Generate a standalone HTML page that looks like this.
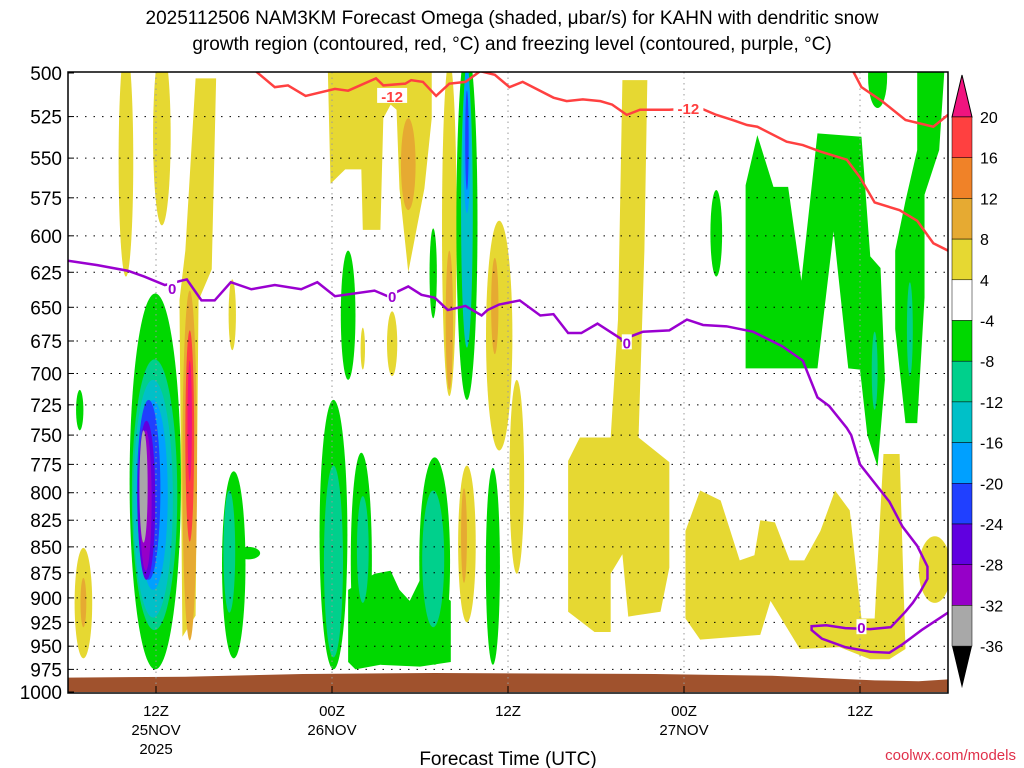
<!DOCTYPE html>
<html><head><meta charset="utf-8"><style>
body{margin:0;background:#fff;}
svg{display:block;font-family:"Liberation Sans",sans-serif;}
</style></head><body>
<svg id="chart" width="1024" height="768" viewBox="0 0 1024 768">
<text x="512" y="24" text-anchor="middle" font-size="19">2025112506 NAM3KM Forecast Omega (shaded, μbar/s) for KAHN with dendritic snow</text>
<text x="512" y="50" text-anchor="middle" font-size="19">growth region (contoured, red, °C) and freezing level (contoured, purple, °C)</text>
<g id="shade"></g>
<g id="grid"></g>
<g id="lines"></g>
<rect x="68" y="72" width="880" height="621" fill="none" stroke="#000" stroke-width="1.5"/>
<g id="axes"></g>
<g id="cbar"></g>
<text x="508" y="765" text-anchor="middle" font-size="19">Forecast Time (UTC)</text>
<text x="1016" y="760" text-anchor="end" font-size="15" fill="#e0304a">coolwx.com/models</text>
</svg>
<script>
// Data (hour from 06Z 25Nov, pressure hPa)
const levels=[500,525,550,575,600,625,650,675,700,725,750,775,800,825,850,875,900,925,950,975,1000];
const timeTicks=[6,18,30,42,54];
const timeLabels=[["12Z","25NOV","2025"],["00Z","26NOV"],["12Z"],["00Z","27NOV"],["12Z"]];
const cbarValues=[20,16,12,8,4,-4,-8,-12,-16,-20,-24,-28,-32,-36];
const cbarColors=["#ff4040","#f08228","#e6aa32","#e6d832","#ffffff","#00d800","#00d08c","#00c0c8","#00a0ff","#2040ff","#6000e0","#9600c8","#a8a8a8"];
// omega polygons: value, then [hour,pressure] vertices
const polyValues=[6,6,6,6,-6,-6,-6];
const polyShapes=[
[[8.7,503],[10.1,503],[9.8,623],[8.9,645],[8.7,918],[7.8,940],[7.6,645],[8.0,610]],
[[17.7,493],[24.8,493],[24.8,526],[24.3,569],[23.2,625],[22.6,569],[22.4,521],[22.0,518],[21.5,526],[21.3,596],[20.1,596],[20.0,557],[18.9,557],[17.9,566]],
[[37.8,504],[39.5,504],[39.3,610],[38.9,752],[41.0,773],[41.0,870],[40.4,914],[38.2,919],[37.8,857],[37.0,876],[37.0,935],[35.9,935],[34.1,914],[34.1,772],[34.9,752],[37.0,752],[37.5,659]],
[[42.1,835],[43.1,798],[44.5,807],[45.8,863],[46.8,858],[47.2,825],[48.2,827],[49.2,863],[50.2,863],[51.3,835],[52.3,798],[53.3,816],[54.1,921],[55.0,921],[55.6,766],[56.7,766],[57.1,953],[56.0,964],[54.7,964],[52.6,951],[49.9,953],[47.9,903],[47.2,938],[43.1,943],[42.1,921]],
[[19.1,892],[20.9,876],[22.0,873],[22.6,892],[23.3,903],[24.0,882],[26.1,903],[26.1,967],[24.0,972],[21.3,970],[19.6,975],[19.1,967]],
[[46.2,567],[47.0,536],[48.1,568],[49.1,568],[50.0,631],[51.1,535],[54.1,537],[54.7,614],[55.4,622],[55.7,705],[55.2,777],[54.5,750],[54.0,697],[53.2,696],[52.2,597],[51.1,696],[46.2,696]],
[[57.9,493],[59.8,493],[59.4,545],[58.4,573],[58.4,643],[57.9,740],[57.1,740],[56.4,666],[56.4,610],[57.1,577],[57.9,545]]];
// omega ellipses: [hourCenter, hourHalfWidth, pTop, pBottom, omega]
const blobs=[
[3.95,0.5,485,628,6],[6.4,0.6,485,593,6],[8.3,0.5,638,944,10],[8.3,0.3,667,845,18],[8.3,0.15,690,790,22],
[23.2,0.5,526,583,10],[26,0.5,493,718,6],[26,0.25,610,713,10],[29.4,0.9,590,763,6],[29.1,0.25,615,685,10],
[11.2,0.25,630,682,6],[20.1,0.15,665,697,6],[22.1,0.35,653,702,6],[30.6,0.5,705,876,6],
[27.2,0.6,776,925,6],[27.0,0.2,796,885,10],[59.1,1.1,840,905,6],[1.05,0.6,851,963,6],[1.05,0.2,880,930,10],
[5.95,1.75,640,975,-6],[5.9,1.55,689,933,-10],[5.8,1.35,705,920,-14],[5.8,1.0,721,892,-18],[5.5,0.8,721,882,-22],[5.35,0.6,738,882,-26],[5.3,0.4,746,873,-30],[5.15,0.28,746,846,-34],
[0.8,0.25,713,746,-6],[11.3,0.8,781,963,-6],[11.0,0.4,798,915,-10],[12.3,0.8,850,862,-6],
[18.1,0.95,721,975,-6],[18.1,0.65,776,962,-10],[20.0,0.72,765,973,-6],[20.1,0.4,803,905,-10],
[25.0,1.05,769,970,-6],[24.9,0.75,798,930,-10],[28.97,0.48,778,970,-6],[19.1,0.5,610,705,-6],[24.9,0.25,595,658,-6],
[27.2,0.72,485,721,-6],[27.2,0.4,500,680,-14],[27.2,0.25,495,585,-18],[27.2,0.12,510,570,-22],
[44.2,0.4,570,628,-6],[57.4,0.2,632,702,-10],[55.2,0.65,485,520,-6],[55.0,0.2,668,729,-10]];
const redLine=[[10.9,497],[12.8,499],[14.1,508],[15.0,507],[16.2,513],[18.2,509],[19.1,510],[21.0,503],[21.5,507],[23.0,506],[23.4,504],[24.2,505],[25.1,513],[26.0,506],[27.1,505],[28.1,499],[29.1,501],[30.1,508],[31.0,505],[33.1,514],[34.0,516],[35.1,515],[36.3,516],[37.1,518],[38.1,524],[39.0,521],[40.2,521],[41.0,521],[43.1,520],[44.2,524],[45.3,527],[46.3,530],[47.0,531],[49.0,540],[50.1,542],[51.3,546],[53.1,551],[54.0,562],[55.0,578],[56.7,583],[57.9,590],[59.0,605],[60.0,610]];
const redLine2=[[53.4,497],[54.1,508],[55.5,516],[57.1,527],[59.0,531],[60.0,524]];
const purpleLine=[[0,617],[2.0,620],[4.1,624],[5.2,628],[6.6,634],[7.7,631],[8.1,630],[9.1,645],[10.0,645],[11.1,632],[12.5,637],[14.1,634],[15.9,637],[17.0,632],[18.2,642],[20.9,638],[21.8,642],[23.2,635],[24.1,641],[25.0,643],[25.9,652],[27.1,649],[28.2,656],[28.6,652],[29.4,648],[30.8,645],[32.2,656],[33.1,655],[34.1,669],[35.0,669],[36.1,662],[37.8,674],[39.2,668],[41.0,667],[42.2,659],[43.3,663],[44.9,664],[46.7,668],[48.7,679],[50.1,690],[51.1,719],[51.9,726],[53.1,744],[53.4,750],[54.0,775],[56.0,808],[56.9,831],[57.9,849],[58.6,869],[58.6,881],[58.1,894],[57.6,905],[57.1,914],[56.1,930],[54.7,932],[53.0,931],[51.7,928],[50.7,929],[50.7,933],[51.4,942],[53.0,951],[54.7,956],[56.0,957],[56.9,948],[58.2,933],[60.1,914]];
const redLabels=[[22.1,513,"-12"],[42.3,520,"-12"]];
const purpleLabels=[[7.1,636,"0"],[22.1,642,"0"],[38.1,676,"0"],[54.1,930,"0"]];
const ground=[[0,984],[8,983],[16,980],[25,979],[40,980],[48,982],[55,987],[58,988],[60,986]];

const X0=68,W=880,Y0=73,H=619,NS="http://www.w3.org/2000/svg";
const xs=h=>X0+h/60*W, ys=p=>Y0+Math.log(p/500)/Math.LN2*H;
function colorFor(v){if(v>cbarValues[0])return "#f0147f";for(let i=0;i<cbarColors.length;i++){if(v>cbarValues[i+1])return cbarColors[i];}return "#000";}
function mk(tag,a,parent){const e=document.createElementNS(NS,tag);for(const k in a)e.setAttribute(k,a[k]);parent.appendChild(e);return e;}
const shade=document.getElementById('shade'),grid=document.getElementById('grid'),lines=document.getElementById('lines'),axes=document.getElementById('axes'),cbar=document.getElementById('cbar');
const defs=mk('defs',{},document.getElementById('chart'));
const cp=mk('clipPath',{id:'clip'},defs);mk('rect',{x:X0,y:72,width:W,height:621},cp);
shade.setAttribute('clip-path','url(#clip)');lines.setAttribute('clip-path','url(#clip)');
polyShapes.forEach((s,i)=>{const e=mk('polygon',{points:s.map(q=>xs(q[0])+','+ys(q[1])).join(' '),fill:colorFor(polyValues[i])},shade);

});
blobs.slice().sort((a,b)=>Math.abs(a[4])-Math.abs(b[4])).forEach(b=>{const y1=ys(b[2]),y2=ys(b[3]);
const e=mk('ellipse',{cx:xs(b[0]),cy:(y1+y2)/2,rx:xs(b[1])-X0,ry:(y2-y1)/2,fill:colorFor(b[4])},shade);

});
let gp='M'+xs(0)+','+ys(1000)+ground.map(g=>' L'+xs(g[0])+','+ys(g[1])).join('')+' L'+xs(60)+','+ys(1000)+'Z';
const gr=mk('path',{d:gp,fill:'#a0522d'},shade);


levels.forEach(p=>{if(p>500&&p<1000)mk('line',{x1:X0,x2:X0+W,y1:ys(p),y2:ys(p),stroke:'#000','stroke-dasharray':'1.5,7'},grid);
const t=mk('text',{x:62,y:ys(p)+7,'text-anchor':'end','font-size':'19'},axes);t.textContent=p;


mk('line',{x1:X0,x2:X0+6,y1:ys(p),y2:ys(p),stroke:'#000'},axes);});
timeTicks.forEach((h,i)=>{mk('line',{x1:xs(h),x2:xs(h),y1:72,y2:693,stroke:'#999','stroke-dasharray':'1.5,4'},grid);
mk('line',{x1:xs(h),x2:xs(h),y1:693,y2:686,stroke:'#000'},axes);
timeLabels[i].forEach((s,j)=>{const t=mk('text',{x:xs(h),y:716+j*19,'text-anchor':'middle','font-size':'15'},axes);t.textContent=s;

});});
function poly(arr,col,name){const e=mk('polyline',{points:arr.map(q=>xs(q[0])+','+ys(q[1])).join(' '),fill:'none',stroke:col,'stroke-width':2.5},lines);

}
poly(redLine,'#ff4040','dendritic-minus12-contour');poly(redLine2,'#ff4040','dendritic-minus12-contour-right');poly(purpleLine,'#9a00d0','freezing-level-contour');
function lab(arr,col){arr.forEach(l=>{mk('rect',{x:xs(l[0])-(l[2].length*5),y:ys(l[1])-8,width:l[2].length*10,height:15,fill:'#fff'},lines);
const t=mk('text',{x:xs(l[0]),y:ys(l[1])+6,'text-anchor':'middle','font-size':'15','font-weight':'bold',fill:col},lines);t.textContent=l[2];

});}
lab(redLabels,'#ff4040');lab(purpleLabels,'#9a00d0');
// colorbar
const CX=952,CW=20,CT=117,CS=40.7;
mk('polygon',{points:`${CX},${CT} ${CX+CW},${CT} ${CX+CW/2},${CT-42}`,fill:'#f0147f',stroke:'#000'},cbar);
cbarColors.forEach((c,i)=>{const r=mk('rect',{x:CX,y:CT+i*CS,width:CW,height:CS,fill:c,stroke:'#000','stroke-width':0.5},cbar);

});
const yb=CT+cbarColors.length*CS;
mk('polygon',{points:`${CX},${yb} ${CX+CW},${yb} ${CX+CW/2},${yb+42}`,fill:'#000'},cbar);
cbarValues.forEach((v,i)=>{const t=mk('text',{x:CX+CW+8,y:CT+i*CS+6,'font-size':'16'},cbar);t.textContent=v;

});
</script>
</body></html>
